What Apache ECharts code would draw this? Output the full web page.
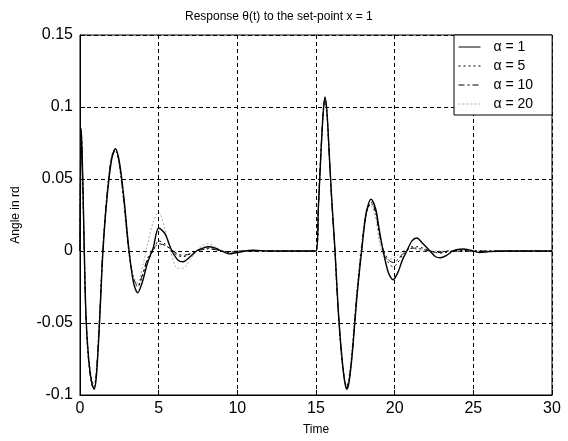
<!DOCTYPE html>
<html>
<head>
<meta charset="utf-8">
<script src="https://cdn.jsdelivr.net/npm/echarts@6/dist/echarts.min.js"></script>
<style>html,body{margin:0;padding:0;background:#fff;}#c{width:568px;height:441px;}</style>
</head>
<body>
<div id="c"></div>
<script>
var T = [0, 0.03, 0.08, 0.15, 0.25, 0.38, 0.55, 0.75, 0.9, 1.05,
  1.25, 1.45, 1.7, 2.0, 2.25, 2.5, 2.8, 3.1, 3.4, 3.67,
  3.95, 4.3, 4.65, 5.0, 5.4, 5.8, 6.2, 6.55, 7.0, 7.4,
  7.8, 8.15, 8.6, 9.0, 9.5, 10, 11, 12, 13, 14,
  15, 15.15, 15.3, 15.45, 15.57, 15.7, 15.85, 16.0, 16.2, 16.4,
  16.6, 16.8, 16.95, 17.1, 17.3, 17.6, 17.9, 18.2, 18.5, 18.8,
  19.0, 19.27, 19.6, 19.9, 20.2, 20.5, 20.77, 21.1, 21.4, 21.8,
  22.25, 22.6, 22.9, 23.3, 23.7, 24.0, 24.35, 24.8, 25.4, 26,
  27, 28, 29, 30];

var alpha1 = [0, 0.05, 0.084, 0.062, 0.012, -0.045, -0.075, -0.092, -0.096, -0.086,
  -0.048, -0.002, 0.035, 0.063, 0.071, 0.062, 0.036, 0.002, -0.022, -0.029,
  -0.022, -0.008, 0.002, 0.016, 0.012, 0.001, -0.006, -0.0075, -0.004, 0,
  0.002, 0.003, 0.002, 0, -0.002, -0.001, 0.0005, 0, 0, 0,
  0, 0.03, 0.065, 0.095, 0.107, 0.096, 0.066, 0.036, 0.002, -0.038,
  -0.068, -0.089, -0.096, -0.091, -0.072, -0.032, 0, 0.027, 0.036, 0.029,
  0.016, 0, -0.015, -0.020, -0.015, -0.006, 0, 0.007, 0.009, 0.005,
  0, -0.004, -0.0047, -0.003, 0, 0.001, 0.0014, 0.0006, -0.001, -0.0004,
  0, 0, 0, 0];

var alpha5 = [0, 0.05, 0.083, 0.06, 0.01, -0.046, -0.074, -0.09, -0.094, -0.084,
  -0.046, 0, 0.036, 0.064, 0.070, 0.060, 0.033, 0, -0.02, -0.025,
  -0.018, -0.006, 0, 0.007, 0.005, 0, -0.003, -0.004, -0.002, 0,
  0.001, 0.002, 0.001, 0, -0.001, 0, 0, 0, 0, 0,
  0, 0.03, 0.065, 0.094, 0.105, 0.094, 0.064, 0.034, 0, -0.04,
  -0.07, -0.088, -0.094, -0.089, -0.07, -0.03, 0.002, 0.026, 0.033, 0.026,
  0.013, 0, -0.008, -0.011, -0.008, -0.003, 0, 0.003, 0.003, 0.002,
  0, -0.001, -0.0015, -0.001, 0, 0, 0.0005, 0, 0, 0,
  0, 0, 0, 0];

var alpha10 = [0, 0.052, 0.085, 0.061, 0.01, -0.047, -0.077, -0.093, -0.095, -0.083,
  -0.045, 0.001, 0.037, 0.065, 0.071, 0.061, 0.034, 0.001, -0.019, -0.024,
  -0.017, -0.005, 0.001, 0.005, 0.004, 0.001, -0.002, -0.003, -0.002, 0,
  0.001, 0.0015, 0.001, 0, -0.0005, 0, 0, 0, 0, 0,
  0, 0.031, 0.066, 0.096, 0.106, 0.095, 0.065, 0.035, 0.001, -0.039,
  -0.069, -0.089, -0.095, -0.09, -0.071, -0.031, 0.001, 0.027, 0.034, 0.027,
  0.014, 0.001, -0.006, -0.008, -0.006, -0.002, 0, 0.002, 0.002, 0.001,
  0, -0.001, -0.001, 0, 0, 0, 0, 0, 0, 0,
  0, 0, 0, 0];

var alpha20 = [0, 0.05, 0.082, 0.058, 0.008, -0.048, -0.078, -0.091, -0.092, -0.08,
  -0.042, 0.004, 0.04, 0.066, 0.07, 0.058, 0.03, -0.002, -0.018, -0.022,
  -0.012, 0.005, 0.02, 0.027, 0.015, -0.002, -0.012, -0.012, -0.006, 0,
  0.004, 0.005, 0.003, 0, -0.002, -0.001, 0, 0, 0, 0,
  0, 0.029, 0.063, 0.093, 0.104, 0.093, 0.063, 0.033, -0.002, -0.042,
  -0.072, -0.09, -0.094, -0.087, -0.066, -0.026, 0.006, 0.028, 0.031, 0.022,
  0.008, -0.003, -0.006, -0.005, -0.003, 0, 0.001, 0.002, 0.001, 0,
  0, 0, 0, 0, 0, 0, 0, 0, 0, 0,
  0, 0, 0, 0];

var seriesNames = ['\u03b1 = 1', '\u03b1 = 5', '\u03b1 = 10', '\u03b1 = 20'];
var yTicks = [-0.1, -0.05, 0, 0.05, 0.1, 0.15];
var yTickLabels = ['-0.1', '-0.05', '0', '0.05', '0.1', '0.15'];
var xTicks = [0, 5, 10, 15, 20, 25, 30];
var xTickLabels = ['0', '5', '10', '15', '20', '25', '30'];

function pairs(vals) { return T.map(function (t, i) { return [t, vals[i]]; }); }
function lookup(ticks, labels, v) {
  for (var i = 0; i < ticks.length; i++) { if (Math.abs(ticks[i] - v) < 1e-9) return labels[i]; }
  return '';
}

var FONT = '"Liberation Sans", Arial, sans-serif';
var styles = [
  { color: '#000', width: 1.4, type: 'solid' },
  { color: '#000', width: 1, type: [2, 3] },
  { color: '#000', width: 1, type: [6, 3, 2, 3] },
  { color: '#aaa', width: 1, type: [2, 2] }
];
var data = [alpha1, alpha5, alpha10, alpha20];

var chart = echarts.init(document.getElementById('c'), null, { renderer: 'canvas' });
chart.setOption({
  animation: false,
  backgroundColor: '#fff',
  title: {
    text: 'Response \u03b8(t) to the set-point x = 1',
    left: 180, top: 6,
    textStyle: { fontFamily: FONT, fontSize: 12, fontWeight: 'normal', color: '#000' }
  },
  legend: {
    show: true,
    orient: 'vertical', left: 454, top: 35, z: 20,
    backgroundColor: '#fff', borderColor: '#000', borderWidth: 1, borderRadius: 0,
    padding: [5, 19, 4, 4], itemGap: 5, itemWidth: 22, itemHeight: 14,
    itemStyle: { opacity: 0 },
    lineStyle: { width: 1 },
    textStyle: { fontFamily: FONT, fontSize: 14, color: '#000', padding: [0, 0, 0, 8] },
    data: seriesNames
  },
  grid: {
    left: 80, right: 16, top: 35, bottom: 45,
    show: true, borderColor: '#000', borderWidth: 1, backgroundColor: 'transparent'
  },
  xAxis: {
    type: 'value', min: 0, max: 30, interval: 5,
    name: 'Time', nameLocation: 'middle', nameGap: 29,
    nameTextStyle: { fontFamily: FONT, fontSize: 12, color: '#000' },
    axisLine: { show: true, onZero: false, lineStyle: { color: '#000' } },
    axisTick: { show: true, inside: true, length: 5, lineStyle: { color: '#000' } },
    axisLabel: { fontFamily: FONT, fontSize: 16, color: '#000', margin: 6,
      formatter: function (v) { return lookup(xTicks, xTickLabels, v); } },
    splitLine: { show: true, lineStyle: { color: '#000', type: [4, 3], width: 1 } }
  },
  yAxis: {
    type: 'value', min: -0.1, max: 0.15, interval: 0.05,
    name: 'Angle in rd', nameLocation: 'middle', nameGap: 58,
    nameTextStyle: { fontFamily: FONT, fontSize: 12, color: '#000' },
    axisLine: { show: true, lineStyle: { color: '#000' } },
    axisTick: { show: true, inside: true, length: 5, lineStyle: { color: '#000' } },
    axisLabel: { fontFamily: FONT, fontSize: 16, color: '#000', margin: 7,
      formatter: function (v) { return lookup(yTicks, yTickLabels, v); } },
    splitLine: { show: true, lineStyle: { color: '#000', type: [4, 3], width: 1 } }
  },
  series: seriesNames.map(function (n, i) {
    return {
      name: n, type: 'line', data: pairs(data[i]), smooth: 0.3,
      symbol: 'none', showSymbol: false, z: 10 - i,
      lineStyle: styles[i], itemStyle: { color: styles[i].color }
    };
  })
});
</script>
</body>
</html>
